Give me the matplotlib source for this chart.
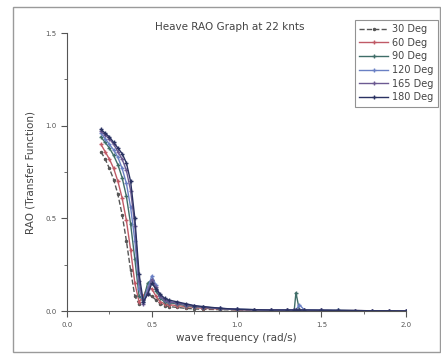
import matplotlib
matplotlib.use('Agg')
import matplotlib.pyplot as plt
from matplotlib.patches import Rectangle
from matplotlib.ticker import MultipleLocator

# wave frequency (rad/s)
freq = [0.200, 0.225, 0.250, 0.275, 0.300, 0.325, 0.350, 0.375, 0.400, 0.425,
        0.450, 0.475, 0.500, 0.525, 0.550, 0.575, 0.600,
        0.65, 0.70, 0.75, 0.80,
        0.90, 1.00, 1.10, 1.20, 1.30,
        1.34, 1.35, 1.37, 1.40,
        1.50, 1.60, 1.70, 1.80, 1.90, 2.00]

# heave RAO per heading
rao_30 = [0.86, 0.82, 0.77, 0.71, 0.63, 0.52, 0.38, 0.22, 0.08, 0.04,
          0.06, 0.09, 0.08, 0.06, 0.04, 0.03, 0.025,
          0.020, 0.015, 0.012, 0.010,
          0.008, 0.006, 0.005, 0.004, 0.004,
          0.004, 0.004, 0.004, 0.004,
          0.003, 0.003, 0.002, 0.002, 0.001, 0.001]
rao_60 = [0.90, 0.86, 0.82, 0.77, 0.70, 0.61, 0.49, 0.33, 0.15, 0.05,
          0.08, 0.13, 0.12, 0.08, 0.05, 0.04, 0.035,
          0.030, 0.025, 0.020, 0.015,
          0.012, 0.008, 0.006, 0.005, 0.005,
          0.005, 0.005, 0.005, 0.004,
          0.004, 0.003, 0.003, 0.002, 0.002, 0.001]
rao_90 = [0.94, 0.91, 0.88, 0.84, 0.79, 0.72, 0.62, 0.47, 0.28, 0.08,
          0.06, 0.15, 0.17, 0.11, 0.07, 0.05, 0.045,
          0.040, 0.030, 0.025, 0.020,
          0.014, 0.010, 0.008, 0.006, 0.006,
          0.006, 0.100, 0.006, 0.006,
          0.005, 0.004, 0.003, 0.002, 0.002, 0.001]
rao_120 = [0.96, 0.93, 0.90, 0.87, 0.83, 0.77, 0.69, 0.56, 0.38, 0.12,
           0.05, 0.12, 0.19, 0.14, 0.08, 0.06, 0.05,
           0.045, 0.035, 0.028, 0.022,
           0.015, 0.010, 0.008, 0.006, 0.006,
           0.006, 0.006, 0.035, 0.006,
           0.005, 0.004, 0.003, 0.002, 0.002, 0.001]
rao_165 = [0.97, 0.95, 0.93, 0.90, 0.86, 0.82, 0.76, 0.65, 0.46, 0.16,
           0.04, 0.10, 0.17, 0.13, 0.08, 0.06, 0.05,
           0.045, 0.035, 0.028, 0.022,
           0.015, 0.010, 0.008, 0.006, 0.005,
           0.005, 0.005, 0.005, 0.005,
           0.004, 0.003, 0.003, 0.002, 0.002, 0.001]
rao_180 = [0.98, 0.96, 0.94, 0.91, 0.88, 0.85, 0.80, 0.70, 0.50, 0.20,
           0.05, 0.09, 0.15, 0.12, 0.09, 0.07, 0.06,
           0.050, 0.040, 0.030, 0.025,
           0.016, 0.010, 0.008, 0.006, 0.006,
           0.006, 0.006, 0.006, 0.006,
           0.005, 0.004, 0.003, 0.002, 0.002, 0.001]

labels = ['30 Deg', '60 Deg', '90 Deg', '120 Deg', '165 Deg', '180 Deg']
series = [rao_30, rao_60, rao_90, rao_120, rao_165, rao_180]
colors = ['#555555', '#c05a66', '#3f6d68', '#6a80c4', '#6c5a92', '#2a3262']
styles = ['--', '-', '-', '-', '-', '-']
markers = ['.', '+', '+', '+', '+', '+']

fig = plt.figure(figsize=(4.41, 3.56), dpi=100)
fig.patches.append(Rectangle((0.03, 0.012), 0.968, 0.968, transform=fig.transFigure,
                             fill=False, edgecolor='#9a9a9a', linewidth=1.0))

ax = fig.add_axes([0.152, 0.126, 0.769, 0.781])
for y, lab, c, ls, m in zip(series, labels, colors, styles, markers):
    ax.plot(freq, y, linestyle=ls, color=c, marker=m, markersize=3,
            linewidth=1.0, label=lab)

ax.set_xlim(0, 2.0)
ax.set_ylim(0, 1.5)
ax.xaxis.set_major_locator(MultipleLocator(0.5))
ax.xaxis.set_minor_locator(MultipleLocator(0.25))
ax.yaxis.set_major_locator(MultipleLocator(0.5))
ax.yaxis.set_minor_locator(MultipleLocator(0.25))
ax.tick_params(which='both', direction='out', labelsize=5, colors='#555555')
ax.tick_params(which='major', length=4)
ax.tick_params(which='minor', length=2)
ax.spines['top'].set_visible(False)
ax.spines['right'].set_visible(False)
for s in ['left', 'bottom']:
    ax.spines[s].set_color('#555555')

ax.set_xlabel('wave frequency (rad/s)', fontsize=7.5, color='#444444', labelpad=4)
ax.set_ylabel('RAO (Transfer Function)', fontsize=7.5, color='#444444', labelpad=7)
fig.text(0.52, 0.915, 'Heave RAO Graph at 22 knts', ha='center', fontsize=7.5, color='#444444')

leg = ax.legend(loc='upper right', bbox_to_anchor=(0.993, 0.945),
                bbox_transform=fig.transFigure, fontsize=7, frameon=True,
                fancybox=False, handlelength=3.0, labelspacing=0.38,
                borderpad=0.45, handletextpad=0.4, borderaxespad=0,
                labelcolor='#444444')
leg.get_frame().set_edgecolor('#777777')
leg.get_frame().set_linewidth(0.8)

plt.savefig('out.png', dpi=100)
